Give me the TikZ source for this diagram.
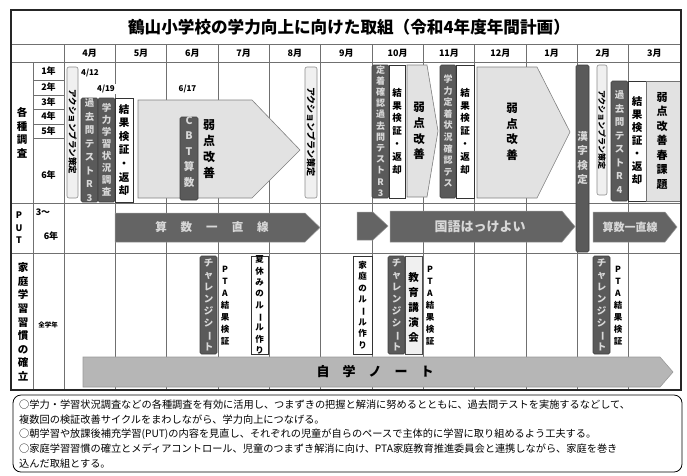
\documentclass[tikz,border=0pt]{standalone}
\usepackage{fontspec}
\setmainfont{Noto Sans CJK JP}
\usepackage{graphicx}
\definecolor{dk}{HTML}{5A5A5A}
\definecolor{dktext}{HTML}{D8D8D8}
\definecolor{lt}{HTML}{E2E2E2}
\definecolor{ltb}{HTML}{F0F0F0}
\definecolor{arrowdk}{HTML}{646464}
\definecolor{arrowlt}{HTML}{B6B6B6}
\definecolor{gridc}{HTML}{707070}
\makeatletter
\def\vt@end{\vt@end}
\newcommand\VT[2]{\vbox{\baselineskip=#1pt\lineskiplimit=-100pt\lineskip=0pt\vt@i#2\vt@end}}
\def\vt@i#1{\ifx#1\vt@end\else\hbox to 1.1em{\hss#1\hss}\expandafter\vt@i\fi}
\makeatother
\newcommand\vb{\rotatebox[origin=c]{-90}{ー}}
\tikzset{
 gridl/.style={draw=gridc, line width=0.7pt},
 dbox/.style={fill=dk, draw=black!75, line width=0.6pt, rounded corners=1.5pt},
 wbox/.style={fill=white, draw=black!80, line width=0.7pt},
 lbox/.style={fill=ltb, draw=black!45, line width=0.6pt, rounded corners=2pt},
 pent/.style={fill=lt, draw=black!50, line width=0.6pt},
 parrow/.style={fill=arrowdk, draw=black!40, line width=0.5pt},
 jarrow/.style={fill=arrowlt, draw=black!40, line width=0.6pt},
 txt/.style={inner sep=0pt, font=\bfseries\fontsize{#1}{#1}\selectfont},
 dtxt/.style={txt=#1, text=dktext},
}
\begin{document}
\begin{tikzpicture}[x=1pt,y=-1pt]
\useasboundingbox (0,0) rectangle (687,475);
% ---------- grid ----------
\foreach \i in {1,...,11} \draw[gridl] ({64+51.33*\i},44) -- ({64+51.33*\i},390);
\draw[gridl] (64,44) -- (64,390);
\draw[gridl] (33,62) -- (33,390);
\foreach \yy in {44,62,203,253} \draw[gridl] (11,\yy) -- (681,\yy);
\foreach \yy in {80,95,109,124,138} \draw[gridl] (33,\yy) -- (64,\yy);
% ---------- title and header ----------
\node[txt=16.6] (title) at (349,27) {鶴山小学校の学力向上に向けた取組（令和4年度年間計画）};
\foreach \m [count=\i from 0] in {4,5,6,7,8,9,10,11,12,1,2,3}
  \node[txt=9] (m\i) at ({64+51.33*(\i+0.5)},53) {\m 月};
% ---------- row labels ----------
\node[txt=10.5] (kakushu) at (22,133) {\VT{13.5}{各種調査}};
\foreach \lab/\yy [count=\i] in {1年/71.5, 2年/87.5, 3年/102, 4年/116.5, 5年/131, 6年/175}
  \node[txt=9] (yr\i) at (48.5,\yy) {\lab};
\node[txt=9] (put) at (19,228) {\VT{12.5}{PUT}};
\node[txt=9] (put3) at (43,212) {3～};
\node[txt=9] (put6) at (51,236) {6年};
\node[txt=10.5] (katei) at (23,322) {\VT{13.6}{家庭学習習慣の確立}};
\node[txt=6.5] (zen) at (48,325) {全学年};
% ---------- 各種調査 ----------
\draw[lbox] (67,67) rectangle (78,198);
\node[txt=8.5, rotate=-90] (ap1) at (72.5,132) {アクションプラン策定};
\node[txt=8] (d412) at (90,73) {4/12};
\node[txt=8, fill=white, inner sep=1pt] (d419) at (106,89) {4/19};
\node[txt=8] (d617) at (187.5,89) {6/17};
\draw[dbox] (81,98) rectangle (98,202);
\node[dtxt=9.5] (kako3) at (89.5,150) {\VT{13.5}{過去問テストR3}};
\draw[dbox] (98,98) rectangle (115,202);
\node[dtxt=9.5] (gakuryoku) at (106.5,150) {\VT{12}{学力学習状況調査}};
\draw[wbox] (115,98) rectangle (133,202);
\node[txt=10.5] (kekka1) at (124,150) {\VT{13.6}{結果検証・返却}};
\draw[pent] (138,100) -- (252,100) -- (300,150) -- (252,198) -- (138,198) -- cycle;
\draw[dbox] (180,117) rectangle (198,200);
\node[dtxt=10.5] (cbt) at (189,152) {\VT{15.5}{CBT算数}};
\node[txt=12] (jaku1) at (209,149) {\VT{16}{弱点改善}};
\draw[lbox] (305,67) rectangle (317,198);
\node[txt=9, rotate=-90] (ap2) at (311,132) {アクションプラン策定};
\draw[dbox] (372,65) rectangle (389,198);
\node[dtxt=9] (teichaku) at (380.5,131) {\VT{11.2}{定着確認過去問テストR3}};
\draw[wbox] (389,65) rectangle (405,198);
\node[txt=9.5] (kekka2) at (397,131) {\VT{12.8}{結果検証・返却}};
\draw[pent] (407,65) -- (427,65) -- (438,131) -- (427,197) -- (407,197) -- cycle;
\node[txt=11.5] (jaku2) at (419,131) {\VT{15.7}{弱点改善}};
\draw[dbox] (440,65) rectangle (456,198);
\node[dtxt=9] (teichaku2) at (448,131) {\VT{11.6}{学力定着状況確認テス}};
\draw[wbox] (456,65) rectangle (474,198);
\node[txt=9.5] (kekka3) at (465,131) {\VT{12.8}{結果検証・返却}};
\draw[pent] (477,67) -- (537,67) -- (570,132) -- (537,198) -- (477,198) -- cycle;
\node[txt=11.5] (jaku3) at (512,132) {\VT{15.5}{弱点改善}};
\draw[lbox] (597,65) rectangle (607,195);
\node[txt=8, rotate=-90] (ap3) at (602,130) {アクションプラン策定};
\draw[dbox] (611,81) rectangle (628,201);
\node[dtxt=9.5] (kako4) at (619.5,142) {\VT{13.5}{過去問テストR4}};
\draw[wbox] (628,81) rectangle (646,201);
\node[txt=10.5] (kekka4) at (637,141) {\VT{13}{結果検証・返却}};
\draw[fill=lt, draw=black!55, line width=0.6pt] (646,81) rectangle (680,201);
\node[txt=11] (haru) at (662,141) {\VT{14.5}{弱点改善春課題}};
% ---------- PUT ----------
\draw[parrow] (115,213) -- (305,213) -- (320,227.5) -- (305,242) -- (115,242) -- cycle;
\node[dtxt=11.5] (sansu1) at (212,227.5) {算\hspace{14pt}数\hspace{14pt}一\hspace{14pt}直\hspace{14pt}線};
\draw[parrow] (357,212) -- (373,212) -- (388,226) -- (373,240) -- (357,240) -- cycle;
\draw[parrow] (390,211) -- (562,211) -- (575,226.5) -- (562,242) -- (390,242) -- cycle;
\node[dtxt=13] (kokugo) at (480,226.5) {国語はっけよい};
\draw[parrow] (593,212) -- (665,212) -- (677,227) -- (665,242) -- (593,242) -- cycle;
\node[dtxt=11] (sansu2) at (630,227) {算数一直線};
\draw[dbox] (576,65) rectangle (589,252);
\node[dtxt=10.5] (kanji) at (582.5,158) {\VT{14.5}{漢字検定}};
% ---------- 家庭 ----------
\draw[dbox] (200,256) rectangle (217,354);
\node[dtxt=9.5] (ch1) at (208.5,305) {\VT{12}{チャレンジシ\vb ト}};
\node[txt=8.5] (pta1) at (225,306) {\VT{12}{PTA結果検証}};
\draw[wbox] (251,256) rectangle (268,354);
\node[txt=8.5] (natsu) at (259.5,305) {\VT{11.3}{夏休みのル\vb ル作り}};
\draw[wbox] (353,256) rectangle (372,354);
\node[txt=8.5] (kateirule) at (362.5,305) {\VT{11.4}{家庭のル\vb ル作り}};
\draw[dbox] (388,256) rectangle (405,354);
\node[dtxt=9.5] (ch2) at (396.5,305) {\VT{12}{チャレンジシ\vb ト}};
\draw[fill=ltb, draw=black!70, line width=0.6pt] (405,256) rectangle (422,354);
\node[txt=10.5] (kyoiku) at (413.5,307) {\VT{15}{教育講演会}};
\node[txt=8.5] (pta2) at (430,306) {\VT{12}{PTA結果検証}};
\draw[dbox] (593,256) rectangle (610,354);
\node[dtxt=9.5] (ch3) at (601.5,305) {\VT{12}{チャレンジシ\vb ト}};
\node[txt=8.5] (pta3) at (618,306) {\VT{12}{PTA結果検証}};
\draw[jarrow] (83,357) -- (660,357) -- (673,372) -- (660,387) -- (83,387) -- cycle;
\node[txt=13] (jigaku) at (375,372) {自\hspace{13pt}学\hspace{13pt}ノ\hspace{13pt}ー\hspace{13pt}ト};
% ---------- frame ----------
\draw[line width=1.2pt, draw=black!85] (11,10) rectangle (681,390);
\draw[line width=2.6pt, draw=black!85] (681,44) -- (681,390);
% ---------- bottom note ----------
\draw[rounded corners=8pt, line width=0.8pt] (13,395) rectangle (682,472);
\node[anchor=north west, inner sep=0pt, align=left, font=\fontsize{10.2}{14.8}\selectfont] (note) at (19,399.5) {%
○学力・学習状況調査などの各種調査を有効に活用し、つまずきの把握と解消に努めるとともに、過去問テストを実施するなどして、\\
複数回の検証改善サイクルをまわしながら、学力向上につなげる。\\
○朝学習や放課後補充学習(PUT)の内容を見直し、それぞれの児童が自らのペースで主体的に学習に取り組めるよう工夫する。\\
○家庭学習習慣の確立とメディアコントロール、児童のつまずき解消に向け、PTA家庭教育推進委員会と連携しながら、家庭を巻き\\
込んだ取組とする。};
\end{tikzpicture}
\end{document}
